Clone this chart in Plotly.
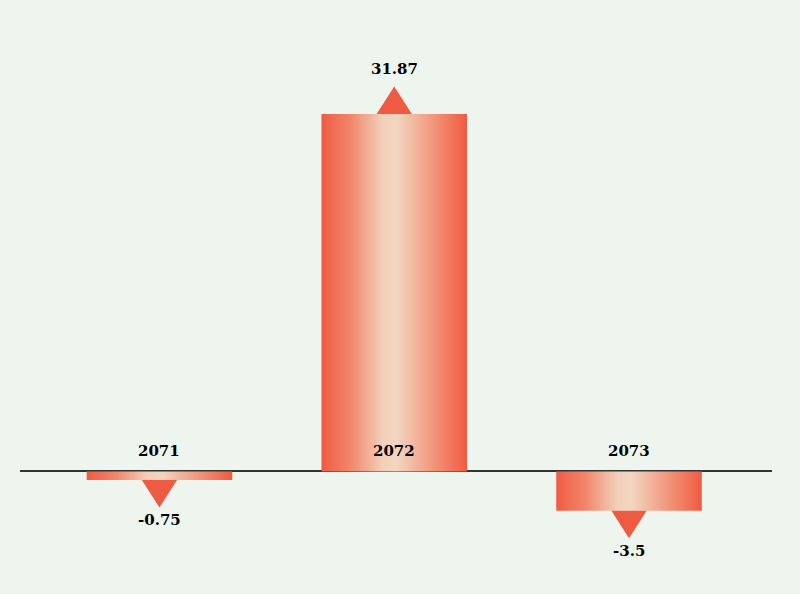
import plotly.graph_objects as go

years = ["2071", "2072", "2073"]
values = [-0.75, 31.87, -3.5]

BG = "#eef4ee"
BAR_SCALE = [[0, "#ef5b43"], [0.2, "#f0866a"], [0.42, "#f2d0ba"],
             [0.52, "#f2d5c1"], [0.8, "#f08e72"], [1, "#f05a41"]]
TRI_COLOR = "#ef5a43"
HALF_W = 0.31
TRI_HALF_W = 0.075
TRI_H = 2.45
FONT = dict(family="DejaVu Serif", size=15, color="#000000")

fig = go.Figure()

for i, v in enumerate(values):
    # bar body with a horizontal gradient
    fig.add_trace(go.Scatter(
        x=[i - HALF_W, i + HALF_W], y=[v, v],
        mode="lines", line=dict(width=0),
        fill="tozeroy",
        fillgradient=dict(type="horizontal", colorscale=BAR_SCALE),
        hoverinfo="skip", showlegend=False,
    ))
    # arrow triangle pointing the way of the change
    d = 1 if v > 0 else -1
    fig.add_trace(go.Scatter(
        x=[i - TRI_HALF_W, i + TRI_HALF_W, i, i - TRI_HALF_W],
        y=[v, v, v + d * TRI_H, v],
        mode="lines", line=dict(width=0),
        fill="toself", fillcolor=TRI_COLOR,
        hoverinfo="skip", showlegend=False,
    ))
    fig.add_annotation(
        x=i, y=v + d * TRI_H, text="<b>%s</b>" % v, showarrow=False,
        yanchor="bottom" if d > 0 else "top",
        yshift=6 if d > 0 else -2, font=FONT,
    )
    fig.add_annotation(
        x=i, y=0, text="<b>%s</b>" % years[i], showarrow=False,
        yanchor="bottom", yshift=9, font=FONT,
    )

fig.update_layout(
    width=800, height=594,
    margin=dict(l=20, r=28, t=0, b=0),
    paper_bgcolor=BG, plot_bgcolor=BG,
    xaxis=dict(range=[-0.594, 2.609], showgrid=False, zeroline=False,
               showticklabels=False, ticks=""),
    yaxis=dict(range=[-10.92, 42.02], showgrid=False, showticklabels=False,
               ticks="", zeroline=True, zerolinecolor="#333333",
               zerolinewidth=1.5),
)

# drop the page margin so the figure fills the window
fig.write_html("out.html", config={"displayModeBar": False}, post_script=(
    "document.body.style.margin='0';"
    "document.body.style.background='%s';" % BG
))
